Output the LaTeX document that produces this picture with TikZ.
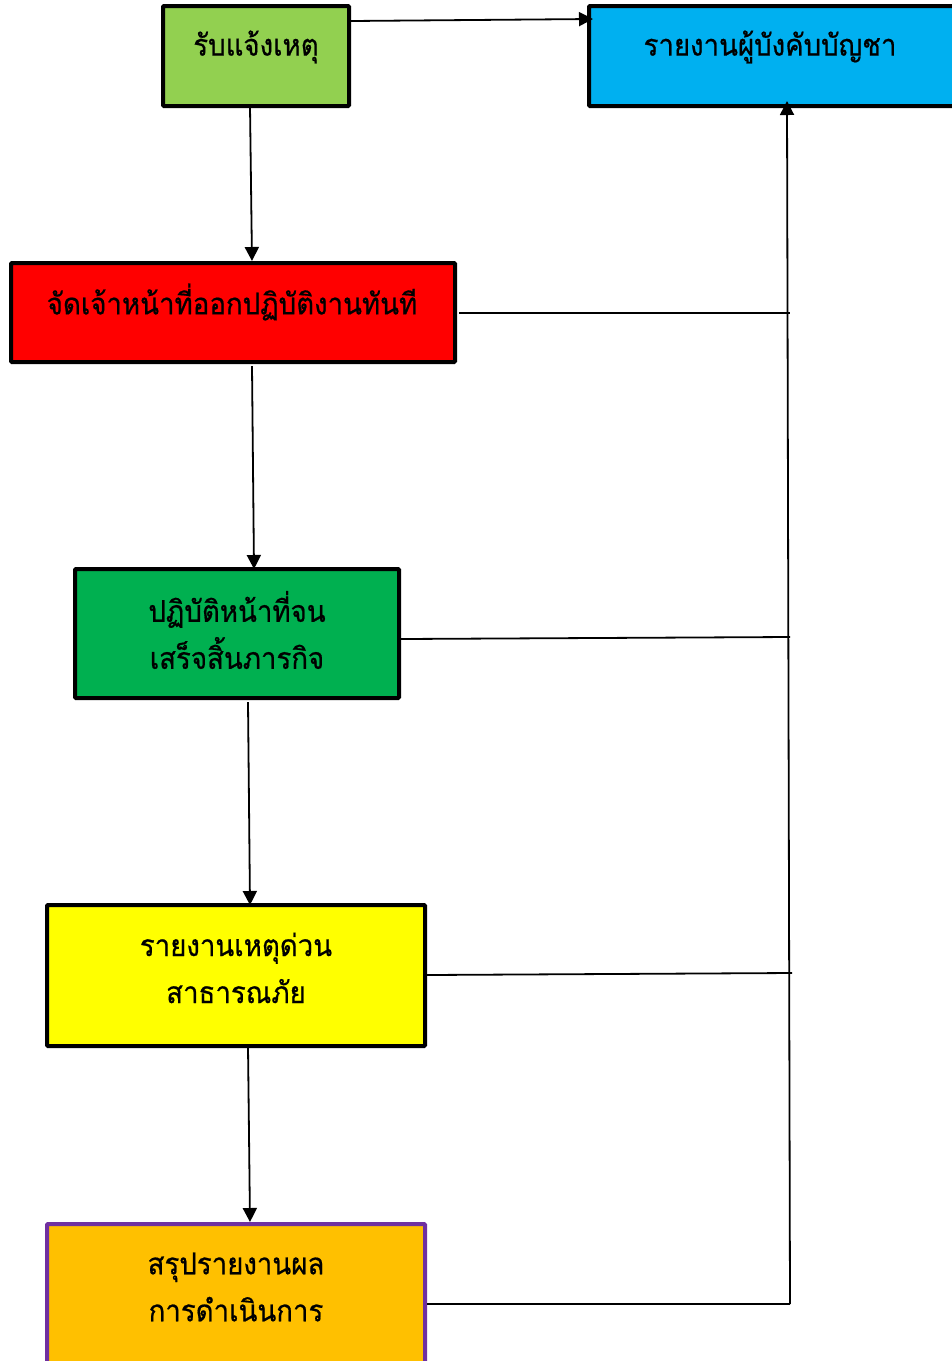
\documentclass[tikz,border=0pt]{standalone}
\usepackage{fontspec}
\newfontfamily\thaifont[Script=Thai,FakeStretch=0.92,FakeBold=0.6]{Loma}
\usetikzlibrary{arrows.meta}
\definecolor{cgreen}{HTML}{92D050}
\definecolor{cblue}{HTML}{00B0F0}
\definecolor{cred}{HTML}{FF0000}
\definecolor{cdgreen}{HTML}{00B050}
\definecolor{cyellow}{HTML}{FFFF00}
\definecolor{corange}{HTML}{FFC000}
\definecolor{cpurple}{HTML}{7030A0}
\tikzset{
  box/.style={draw=black, line width=4pt, rounded corners=1pt, inner sep=0pt},
  lbl/.style={font=\thaifont\fontsize{30}{47}\selectfont, align=center, inner sep=0pt},
  conn/.style={line width=1.8pt, -{Triangle[length=14pt,width=14pt]}},
  plain/.style={line width=1.8pt}
}
\begin{document}
\begin{tikzpicture}[x=1pt,y=-1pt]
\useasboundingbox (0,0) rectangle (952,1361);
\begin{scope}
\clip (0,0) rectangle (952,1361);
% boxes
\node[box, fill=cgreen, minimum width=186pt, minimum height=100pt] (b1) at (256,56) {};
\node[box, fill=cblue, minimum width=380pt, minimum height=100pt, anchor=west] (b2) at (587,56) {};
\node[box, fill=cred, minimum width=444pt, minimum height=99pt] (b3) at (233,312.5) {};
\node[box, fill=cdgreen, minimum width=324pt, minimum height=129pt] (b4) at (237,633.5) {};
\node[box, fill=cyellow, minimum width=378pt, minimum height=141pt] (b5) at (236,975.5) {};
\node[box, draw=cpurple, fill=corange, minimum width=378pt, minimum height=160pt, anchor=north] (b6) at (236,1222) {};
% texts
\node[lbl] (t1) at (256,47) {รับแจ้งเหตุ};
\node[lbl] (t2) at (770,47) {รายงานผู้บังคับบัญชา};
\node[lbl] (t3) at (232,302) {จัดเจ้าหน้าที่ออกปฏิบัติงานทันที};
\node[lbl] (t4) at (237,630) {ปฏิบัติหน้าที่จน\\เสร็จสิ้นภารกิจ};
\node[lbl] (t5) at (236,968) {รายงานเหตุด่วน\\สาธารณภัย};
\node[lbl] (t6) at (236,1287) {สรุปรายงานผล\\การดำเนินการ};
\end{scope}
% coordinates
\coordinate (j3) at (790,313);
\coordinate (j4) at (790,637);
\coordinate (j5) at (792,973);
\coordinate (j6) at (790,1304);
\coordinate (top) at (787,101);
% connectors
\draw[conn] (250,106) -- (b3.north -| 252,0);
\draw[conn] (252,366) -- (254,569);
\draw[conn] (248,702) -- (250,905);
\draw[conn] (248,1046) -- (250,1222);
\draw[conn] (b1.east |- 0,21) -- (593,19);
\draw[plain] (459,313) -- (j3);
\draw[plain] (b4.east |- 0,639) -- (j4);
\draw[plain] (b5.east |- 0,975) -- (j5);
\draw[plain] (b6.east |- 0,1304) -- (j6);
\draw[conn] (j6) -- (top);
\end{tikzpicture}
\end{document}
